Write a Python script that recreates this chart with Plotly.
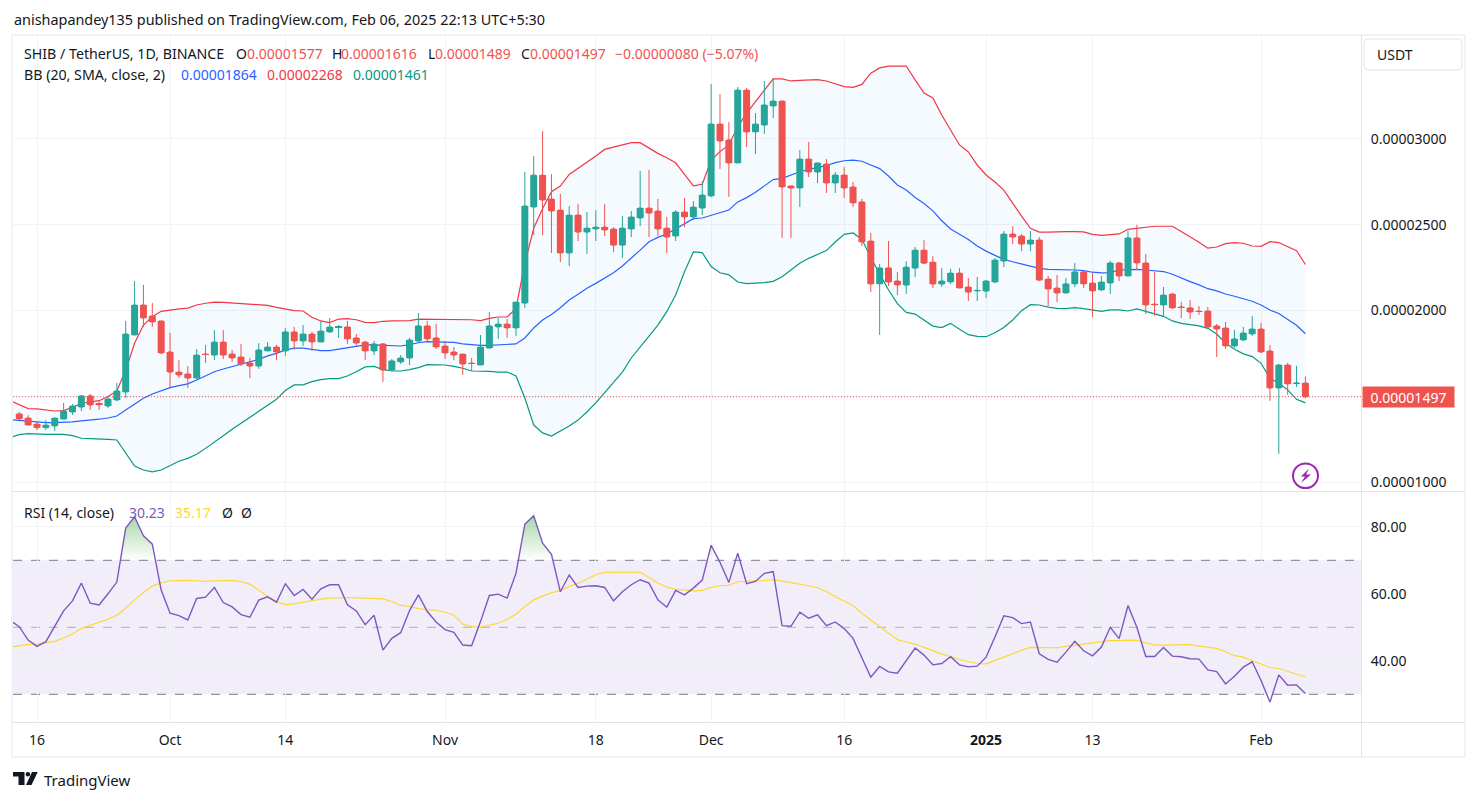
import numpy as np
import pandas as pd
import plotly.graph_objects as go

# All prices in units of 1e-8 USDT
CANDLE_START = "2024-09-14"
LINE_START = "2024-09-13"   # indicator lines run on to the left edge of the pane
opens = [1397,1373,1338,1317,1327,1367,1408,1437,1502,1455,
1443,1478,1525,1857,2032,1968,1939,1758,1641,1630,
1606,1745,1740,1816,1746,1729,1694,1676,1764,1787,
1764,1875,1822,1863,1816,1875,1902,1904,1840,1816,
1764,1805,1653,1700,1723,1822,1910,1840,1793,1758,
1746,1693,1682,1781,1904,1921,1898,2043,2603,2789,
2650,2585,2335,2556,2457,2475,2486,2475,2381,2475,
2539,2597,2580,2480,2434,2574,2545,2597,2668,3087,
2994,2860,3285,3041,3081,3192,3221,2726,2714,2883,
2807,2854,2743,2790,2720,2633,2405,2155,2248,2172,
2148,2247,2352,2282,2154,2166,2218,2137,2114,2113,
2166,2288,2446,2434,2387,2411,2183,2131,2102,2155,
2225,2160,2120,2160,2277,2201,2423,2277,2037,2032,
2096,2020,2015,1996,1997,1910,1898,1793,1828,1863,
1892,1764,1548,1682,1574,1577]
highs = [1408,1389,1350,1362,1373,1461,1455,1507,1513,1478,
1502,1577,1939,2172,2149,2044,1939,1869,1711,1676,
1775,1799,1886,1886,1770,1805,1723,1810,1816,1799,
1898,1904,1915,1875,1939,1956,1915,1939,1863,1822,
1822,1810,1717,1740,1840,1985,1939,1921,1822,1787,
1746,1723,1857,1991,1956,1950,2049,2807,2900,3046,
2795,2679,2609,2620,2574,2585,2620,2486,2550,2580,
2813,2819,2650,2545,2585,2655,2638,2754,3320,3262,
3099,3303,3297,3151,3338,3355,3221,2726,2936,2982,
2860,2883,2807,2837,2749,2650,2452,2271,2405,2225,
2288,2370,2410,2317,2247,2242,2247,2189,2195,2177,
2306,2463,2492,2446,2463,2428,2201,2207,2189,2277,
2225,2219,2201,2289,2283,2464,2499,2330,2225,2137,
2102,2050,2061,2026,2021,1921,1933,1887,1904,1968,
1927,1799,1688,1694,1677,1616]
lows = [1362,1332,1303,1303,1298,1367,1391,1414,1420,1420,
1432,1472,1490,1857,1904,1904,1746,1554,1606,1548,
1601,1694,1711,1717,1700,1676,1606,1659,1764,1711,
1735,1770,1793,1764,1816,1869,1840,1805,1793,1711,
1740,1583,1647,1688,1682,1816,1822,1775,1717,1711,
1624,1647,1682,1781,1834,1840,1851,2014,2440,2440,
2335,2282,2259,2405,2329,2405,2434,2341,2306,2428,
2492,2428,2434,2335,2405,2486,2527,2556,2661,2825,
2662,2860,2953,2912,3029,3122,2423,2423,2603,2778,
2743,2685,2685,2656,2603,2376,2108,1857,2143,2090,
2096,2195,2270,2131,2137,2154,2131,2055,2055,2072,
2160,2253,2387,2346,2346,2172,2026,2049,2102,2137,
2131,1962,2114,2096,2172,2201,2236,1980,1968,1962,
2009,1956,1951,1974,1898,1729,1776,1782,1822,1852,
1752,1473,1164,1508,1554,1489]
closes = [1368,1332,1317,1332,1373,1414,1443,1502,1449,1451,
1484,1531,1863,2032,1956,1933,1752,1641,1624,1606,
1740,1744,1816,1740,1723,1688,1676,1770,1787,1758,
1875,1822,1863,1816,1880,1904,1904,1834,1810,1764,
1805,1653,1706,1723,1828,1910,1834,1787,1752,1740,
1688,1691,1787,1910,1921,1898,2049,2609,2789,2644,
2580,2335,2556,2457,2480,2486,2469,2381,2480,2545,
2597,2568,2475,2428,2574,2545,2603,2673,3087,2988,
2860,3285,3041,3087,3198,3221,2720,2714,2883,2807,
2860,2743,2790,2714,2627,2399,2155,2248,2166,2149,
2253,2352,2276,2154,2172,2218,2131,2107,2117,2172,
2294,2446,2428,2387,2411,2177,2125,2102,2155,2225,
2155,2114,2166,2277,2201,2423,2277,2032,2034,2090,
2015,2018,1991,1994,1904,1892,1793,1834,1869,1892,
1758,1548,1682,1572,1577,1497]
bb_upper = [1474,1449,1428,1426,1422,1414,1416,1435,1459,1467,1474,
1498,1531,1653,1809,1915,1964,1995,2003,2009,2014,
2032,2042,2049,2047,2044,2040,2038,2034,2030,2018,
2007,1999,1997,1960,1939,1929,1950,1952,1946,1931,
1929,1937,1939,1939,1941,1950,1950,1948,1948,1948,
1948,1946,1941,1954,1962,1962,2012,2274,2479,2595,
2692,2725,2793,2828,2867,2900,2939,2951,2962,2978,
2978,2945,2916,2890,2861,2793,2727,2736,2877,2926,
2965,3072,3149,3217,3285,3350,3350,3338,3342,3344,
3346,3338,3322,3305,3301,3318,3383,3414,3425,3425,
3425,3344,3268,3239,3140,3052,2965,2924,2848,2790,
2749,2702,2624,2550,2479,2457,2457,2460,2460,2460,
2458,2444,2438,2442,2446,2473,2479,2485,2491,2491,
2491,2460,2431,2398,2363,2370,2390,2396,2392,2376,
2374,2401,2396,2372,2349,2268]
bb_middle = [1364,1360,1352,1348,1346,1346,1346,1350,1356,1360,1366,
1373,1385,1420,1455,1488,1513,1533,1550,1562,1572,
1595,1620,1643,1659,1674,1686,1700,1715,1735,1750,
1770,1781,1781,1772,1766,1766,1774,1783,1793,1799,
1799,1797,1793,1793,1801,1812,1818,1818,1818,1814,
1805,1799,1797,1797,1799,1799,1805,1840,1898,1944,
1977,2016,2061,2094,2129,2158,2191,2220,2259,2304,
2352,2401,2426,2446,2475,2508,2535,2539,2555,2570,
2586,2633,2658,2689,2726,2763,2770,2790,2809,2823,
2833,2844,2862,2873,2877,2870,2848,2827,2784,2732,
2702,2659,2624,2581,2523,2475,2444,2414,2376,2346,
2321,2298,2284,2271,2255,2245,2240,2240,2240,2236,
2232,2223,2219,2221,2236,2240,2240,2236,2232,2227,
2211,2188,2168,2149,2127,2114,2096,2083,2069,2054,
2032,2003,1982,1949,1914,1864]
bb_lower = [1259,1276,1282,1278,1278,1278,1278,1270,1255,1253,1253,
1249,1245,1167,1093,1070,1059,1070,1095,1121,1138,
1162,1196,1235,1270,1307,1342,1375,1410,1450,1482,
1533,1566,1566,1585,1597,1603,1603,1618,1643,1671,
1674,1655,1647,1647,1655,1667,1684,1684,1682,1674,
1663,1647,1647,1645,1641,1641,1618,1490,1332,1286,
1268,1297,1326,1361,1408,1461,1519,1577,1641,1723,
1790,1850,1915,1993,2090,2226,2341,2337,2256,2220,
2208,2166,2157,2160,2162,2170,2197,2236,2275,2304,
2328,2349,2399,2444,2452,2415,2308,2216,2119,2040,
1989,1979,1944,1909,1900,1925,1890,1859,1849,1847,
1870,1901,1944,1999,2034,2032,2020,2012,2011,2017,
2011,2001,1995,2003,2003,1997,2009,1995,1982,1966,
1939,1925,1918,1910,1896,1863,1809,1774,1747,1731,
1692,1605,1576,1537,1482,1461]
rsi = [52,50.2,46.2,44.3,45.7,50.4,54.9,57.9,63.2,57.2,56.7,
60,63.5,79.6,83,77.3,74.8,61.1,54.2,53.5,52.2,
58.6,59,61.9,57.4,56.1,53.8,53,58.1,59.1,57.5,
63,59.5,61.3,58.4,61.5,62.7,62.7,56.7,54.9,50.8,
53.6,43.2,46.7,48.4,55,59.7,54.7,51.6,49.3,48.5,
44.7,44.5,51.7,59.5,59.9,58.7,66.1,80.8,83.3,75.1,
71.8,60.6,65.6,61.9,62.3,62.4,61.9,57.9,60.6,62.7,
64.2,63.2,58.2,56,61,59.7,61.7,64.1,74.5,69.4,
63.4,72.1,63,63.7,66.1,66.6,50.5,50.3,54.5,52.7,
53.7,50.5,51.6,49.6,46.7,40.7,35.1,38.3,36.7,36.3,
40.1,43.8,41.7,38.8,39.2,41.2,38.8,38.2,38.4,41.1,
47.1,53.4,52.9,51.1,51.6,42.1,40.4,39.6,42.6,45.8,
43,41.5,44.1,50,46.6,56.5,50,41.3,41.3,44,
41.4,41.2,40.6,40.5,37.3,36.8,33.1,35.4,38.1,39.7,
34.1,27.7,35.8,32.7,32.8,30.23]
rsi_ma = [44.1,44.5,44.9,45,45.4,45.8,46.8,48,49.7,50.6,51.4,
52.4,53.6,55.7,58.2,60.4,62.3,63.3,63.9,64,64,
63.9,63.7,63.9,64,64,63.6,62.9,61.1,59.2,57.7,
56.8,57,57.5,58,58.4,58.7,58.9,58.9,58.8,58.7,
58.6,58.5,57.7,56.6,56.2,55.6,55.3,55.1,54.5,53.7,
51,50.2,50.1,50.7,51.2,52.4,53.9,56.2,58.2,59.3,
60.3,61,62.2,63.1,64.4,65.7,66.4,66.4,66.4,66.6,
66.5,64.9,63.2,62,61.3,61.2,60.9,61,61.9,62.4,
62.6,63.6,63.8,63.9,63.9,64.2,63.8,63.4,62.9,62.4,
61.8,60.7,59.1,57.7,56.5,54.2,52.2,50.3,48.3,46.3,
45.6,45,44,43,42,41.3,40.4,39.8,39.2,39.1,
40,41.1,42.1,43.2,44,43.9,43.8,43.9,44.3,44.6,
44.9,45.2,45.5,46,46,46.2,46.1,45.3,44.7,44.7,
44.8,44.9,44.8,44.4,44,43.7,42.7,41.6,41.1,40,
38.9,38,37.7,36.9,36.2,35.17]
x_tick_dates = ["2024-09-16","2024-10-01","2024-10-14","2024-11-01","2024-11-18",
                "2024-12-01","2024-12-16","2025-01-01","2025-01-13","2025-02-01"]
x_tick_labels = ["16","Oct","14","Nov","18","Dec","16","<b>2025</b>","13","Feb"]
price_ticks = [1000,1500,2000,2500,3000]
price_tick_labels = ["0.00001000","","0.00002000","0.00002500","0.00003000"]
rsi_ticks = [40,60,80]
rsi_tick_labels = ["40.00","60.00","80.00"]
last_price = 1497

W, H = 1479, 801
FONT = "Noto Sans"
INK = "#131722"
UP, DOWN = "#26A69A", "#EF5350"
GRID = "#F2F3F7"
EDGE = "#E0E3EB"
FRAME = "#F0F3FA"
def X(p): return p / W
def Y(p): return 1 - p / H

scale = 1e-8
dates = pd.date_range(CANDLE_START, periods=len(closes), freq="D")
line_dates = pd.date_range(LINE_START, periods=len(rsi), freq="D")
P = lambda a: np.array(a, dtype=float) * scale

fig = go.Figure()
# Bollinger bands (under the candles)
fig.add_trace(go.Scatter(x=line_dates, y=P(bb_lower), mode="lines", line=dict(color="#089981", width=1.2),
                         xaxis="x", yaxis="y"))
fig.add_trace(go.Scatter(x=line_dates, y=P(bb_upper), mode="lines", line=dict(color="#F23645", width=1.2),
                         fill="tonexty", fillcolor="rgba(33,150,243,0.05)", xaxis="x", yaxis="y"))
fig.add_trace(go.Scatter(x=line_dates, y=P(bb_middle), mode="lines", line=dict(color="#2962FF", width=1.2),
                         xaxis="x", yaxis="y"))
# Candles on an overlaid axis so that they sit above the band lines; the bars give the bodies their full width
o_arr, c_arr = P(opens), P(closes)
fig.add_trace(go.Bar(x=dates, y=np.abs(c_arr - o_arr), base=np.minimum(o_arr, c_arr),
                     width=7.0 / 8.87 * 86400000,
                     marker=dict(color=[UP if c >= o else DOWN for o, c in zip(opens, closes)], line=dict(width=0)),
                     xaxis="x", yaxis="y3"))
fig.add_trace(go.Candlestick(x=dates, open=o_arr, high=P(highs), low=P(lows), close=c_arr,
                             increasing=dict(line=dict(color=UP, width=1), fillcolor=UP),
                             decreasing=dict(line=dict(color=DOWN, width=1), fillcolor=DOWN),
                             whiskerwidth=0, xaxis="x", yaxis="y3"))

# Overbought gradient area: polygons of the RSI above 70
px, py = [], []
level = 70.0
inside = False
for k in range(len(rsi)):
    if rsi[k] > level:
        if not inside:
            f = (level - rsi[k-1]) / (rsi[k] - rsi[k-1])
            px.append(k - 1 + f); py.append(level)
            inside = True
        px.append(float(k)); py.append(rsi[k])
    elif inside:
        f = (rsi[k-1] - level) / (rsi[k-1] - rsi[k])
        px.append(k - 1 + f); py.append(level)
        px.append(None); py.append(None)
        inside = False
poly_x = [None if v is None else line_dates[0] + pd.Timedelta(days=v) for v in px]
fig.add_trace(go.Scatter(x=poly_x, y=py, mode="lines", line=dict(width=0), fill="toself",
                         fillgradient=dict(type="vertical",
                                           colorscale=[[0, "rgba(76,175,80,0)"], [1, "rgba(76,175,80,0.5)"]]),
                         xaxis="x2", yaxis="y2"))
fig.add_trace(go.Scatter(x=line_dates, y=rsi_ma, mode="lines", line=dict(color="#FDD835", width=1.2),
                         xaxis="x2", yaxis="y2"))
fig.add_trace(go.Scatter(x=line_dates, y=rsi, mode="lines", line=dict(color="#7E57C2", width=1.4),
                         xaxis="x2", yaxis="y2"))

shapes = []
def line(x0, y0, x1, y1, color, width=1):
    shapes.append(dict(type="line", xref="paper", yref="paper", x0=X(x0), y0=Y(y0), x1=X(x1), y1=Y(y1),
                       line=dict(color=color, width=width), layer="below"))
# RSI band and levels
shapes.append(dict(type="rect", xref="paper", yref="y2", x0=X(13), x1=X(1361), y0=30, y1=70,
                   fillcolor="rgba(126,87,194,0.1)", line=dict(width=0), layer="below"))
for lv, col in [(70, "#787B86"), (50, "rgba(120,123,134,0.55)"), (30, "#787B86")]:
    shapes.append(dict(type="line", xref="paper", yref="y2", x0=X(13), x1=X(1361), y0=lv, y1=lv,
                       line=dict(color=col, width=1, dash="dash"), layer="below"))
# last-price line
shapes.append(dict(type="line", xref="paper", yref="y", x0=X(13), x1=X(1361),
                   y0=last_price*scale, y1=last_price*scale,
                   line=dict(color=DOWN, width=1, dash="1px,2px"), layer="above"))
# frame
line(12, 35, 1465, 35, FRAME, 2); line(12, 35, 12, 757, FRAME, 2)
line(1465, 35, 1465, 757, FRAME, 2); line(12, 757, 1465, 757, FRAME, 2)
line(13, 491.5, 1465, 491.5, EDGE); line(13, 722.5, 1465, 722.5, EDGE)
line(1361.5, 35, 1361.5, 757, EDGE)
# USDT button
def rrect(x0, y0, x1, y1, r):
    return (f"M{X(x0+r)},{Y(y0)} L{X(x1-r)},{Y(y0)} Q{X(x1)},{Y(y0)} {X(x1)},{Y(y0+r)} "
            f"L{X(x1)},{Y(y1-r)} Q{X(x1)},{Y(y1)} {X(x1-r)},{Y(y1)} L{X(x0+r)},{Y(y1)} "
            f"Q{X(x0)},{Y(y1)} {X(x0)},{Y(y1-r)} L{X(x0)},{Y(y0+r)} Q{X(x0)},{Y(y0)} {X(x0+r)},{Y(y0)} Z")
shapes.append(dict(type="path", xref="paper", yref="paper", path=rrect(1364, 39, 1462, 70, 4),
                   fillcolor="white", line=dict(color=EDGE, width=1), layer="above"))
# lightning badge
PURPLE = "#9C27B0"
shapes.append(dict(type="circle", xref="paper", yref="paper", x0=X(1293), x1=X(1318), y0=Y(463.5), y1=Y(488),
                   line=dict(color=PURPLE, width=2), fillcolor="white", layer="above"))
bolt = [(1309,468.5),(1301,476.5),(1305,476.5),(1301,483),(1311,474.5),(1306,474.5)]
shapes.append(dict(type="path", xref="paper", yref="paper",
                   path="M" + " L".join(f"{X(a)},{Y(b)}" for a, b in bolt) + " Z",
                   fillcolor=PURPLE, line=dict(width=0), layer="above"))
# TradingView logo
for poly in ([(13,772),(24.5,772),(24.5,785),(18.5,785),(18.5,776.5),(13,776.5)],
             [(37.7,772),(32,772),(26,785),(31.5,785)]):
    shapes.append(dict(type="path", xref="paper", yref="paper",
                       path="M" + " L".join(f"{X(a)},{Y(b)}" for a, b in poly) + " Z",
                       fillcolor=INK, line=dict(width=0), layer="above"))
shapes.append(dict(type="circle", xref="paper", yref="paper", x0=X(25.6), x1=X(30.2), y0=Y(772), y1=Y(776.6),
                   fillcolor=INK, line=dict(width=0), layer="above"))

anns = []
def text(x, y, s, color=INK, size=14):
    anns.append(dict(xref="paper", yref="paper", x=X(x), y=Y(y), text=s, showarrow=False, xanchor="left",
                     yanchor="middle", borderpad=0, font=dict(family=FONT, size=size, color=color)))
text(13, 20, "anishapandey135 published on TradingView.com, Feb 06, 2025 22:13 UTC+5:30", size=14.4)
text(23, 54, "SHIB / TetherUS, 1D, BINANCE", size=14.2)
for x, s in [(235, "O"), (331, "H"), (427, "L"), (520, "C")]:
    text(x, 54, s)
for x, s in [(246, "0.00001577"), (340, "0.00001616"), (434, "0.00001489"), (529, "0.00001497"),
             (614, "−0.00000080 (−5.07%)")]:
    text(x, 54, s, DOWN)
text(23, 74, "BB (20, SMA, close, 2)", size=14.2)
text(180, 74, "0.00001864", "#2962FF"); text(266, 74, "0.00002268", "#F23645"); text(352, 74, "0.00001461", "#089981")
text(23, 512, "RSI (14, close)")
text(128, 512, "30.23", "#7E57C2"); text(174, 512, "35.17", "#FDD835")
text(221, 512, "Ø"); text(240, 512, "Ø")
text(1376, 54.5, "USDT")
text(43, 780, "TradingView", size=15)
anns.append(dict(xref="paper", yref="y", x=X(1362), y=last_price*scale, text="0.00001497", showarrow=False,
                 xanchor="left", yanchor="middle", bgcolor=DOWN, width=88, height=17, borderpad=1.5, align="center",
                 font=dict(family=FONT, size=14, color="white")))

t0 = pd.Timestamp("2024-09-16")
x_range = [t0 + pd.Timedelta(days=(13-37)/8.87), t0 + pd.Timedelta(days=(1361-37)/8.87)]
y_rng = [(1000 - 9*5.83)*scale, (1000 + 446*5.83)*scale]
xdom = [X(13), X(1361)]

fig.update_layout(
    width=W, height=H, margin=dict(l=0, r=0, t=0, b=0), paper_bgcolor="white", plot_bgcolor="white",
    showlegend=False, hovermode=False, barmode="overlay", shapes=shapes, annotations=anns,
    font=dict(family=FONT, size=14, color=INK),
    xaxis=dict(domain=xdom, range=x_range, type="date", anchor="y", tickmode="array", tickvals=x_tick_dates,
               showticklabels=False, ticks="", showgrid=True, gridcolor=GRID, gridwidth=1, zeroline=False,
               rangeslider=dict(visible=False), showline=False),
    yaxis=dict(domain=[Y(491), Y(36)], range=y_rng, side="right", anchor="x", tickmode="array",
               tickvals=[v*scale for v in price_ticks], ticktext=price_tick_labels, ticks="outside", ticklen=6,
               tickcolor="rgba(0,0,0,0)", showgrid=True, gridcolor=GRID, zeroline=False, showline=False,
               tickfont=dict(family=FONT, size=14, color=INK)),
    yaxis3=dict(overlaying="y", range=y_rng, side="right", anchor="x", showticklabels=False, ticks="",
                showgrid=False, zeroline=False, showline=False),
    xaxis2=dict(domain=xdom, range=x_range, type="date", anchor="y2", tickmode="array", tickvals=x_tick_dates,
                ticktext=x_tick_labels, ticks="outside", ticklen=5, tickcolor="rgba(0,0,0,0)", tickangle=0,
                showgrid=True, gridcolor=GRID, zeroline=False, showline=False,
                tickfont=dict(family=FONT, size=14, color=INK)),
    yaxis2=dict(domain=[Y(722), Y(492)], range=[30 - 27.7/3.35, 80 + 34.8/3.35], side="right", anchor="x2",
                tickmode="array", tickvals=rsi_ticks, ticktext=rsi_tick_labels, ticks="outside", ticklen=6,
                tickcolor="rgba(0,0,0,0)", showgrid=True, gridcolor=GRID, zeroline=False, showline=False,
                tickfont=dict(family=FONT, size=14, color=INK)),
)
fig.write_html("out.html", config=dict(displayModeBar=False, responsive=False),
               post_script="document.body.style.margin='0';document.body.style.overflow='hidden';")
